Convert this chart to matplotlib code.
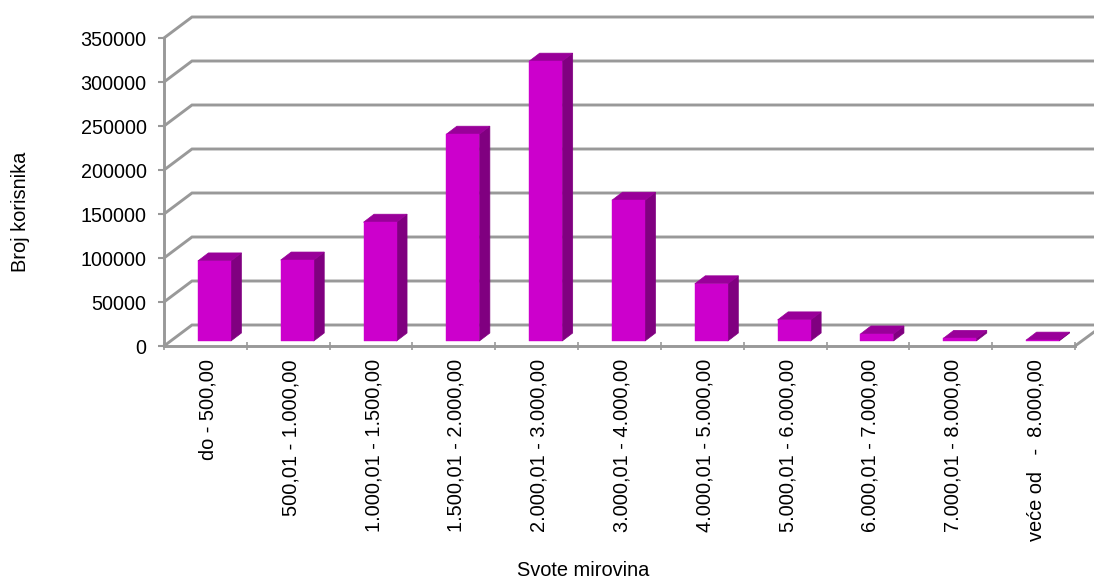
import matplotlib
matplotlib.use('Agg')
import matplotlib.pyplot as plt
from matplotlib.transforms import ScaledTranslation
import numpy as np

plt.rcParams['font.family'] = ['Liberation Sans', 'DejaVu Sans']

categories = ['do - 500,00', '500,01 - 1.000,00', '1.000,01 - 1.500,00', '1.500,01 - 2.000,00',
              '2.000,01 - 3.000,00', '3.000,01 - 4.000,00', '4.000,01 - 5.000,00',
              '5.000,01 - 6.000,00', '6.000,01 - 7.000,00', '7.000,01 - 8.000,00',
              'veće od   -  8.000,00']
korisnici = [91000, 92000, 135000, 235000, 318000, 160000, 65000, 24000, 8000, 3000, 1000]
y_ticks = [0, 50000, 100000, 150000, 200000, 250000, 300000, 350000]

W, H = 1094, 581
GRID = '#999999'
FRONT, TOP, SIDE = '#cc00cc', '#990099', '#800080'

fig = plt.figure(figsize=(W / 100, H / 100), dpi=100)
# axes = front plane of the fake 3d box, pixel position from the picture
left, right, top_px, bottom_px = 164, 1075, 38, 346
ax = fig.add_axes([left / W, 1 - bottom_px / H, (right - left) / W, (bottom_px - top_px) / H])
ax.set_xlim(0, len(categories))
ax.set_ylim(0, 350000)

# helpers px -> data units
ux = len(categories) / (right - left)
uy = 350000 / (bottom_px - top_px)

# walls
wall_dx, wall_dy = 28 * ux, 21 * uy
end_x = (W - left) * ux
for v in y_ticks:
    ax.plot([0, wall_dx, end_x], [v, v + wall_dy, v + wall_dy], color=GRID, lw=2.1,
            clip_on=False, zorder=1, solid_joinstyle='miter')
ax.plot([len(categories), len(categories) + 19 * ux], [0, 14 * uy], color=GRID, lw=2.1,
        clip_on=False, zorder=1)

# bars
centres = np.arange(len(categories)) + 0.5
bar_w = 33 * ux
shift_x, shift_y = 9 * ux, 5 * uy
dep_x, dep_y = 10.5 * ux, 8 * uy
for c, v in zip(centres, korisnici):
    x0 = c + shift_x - bar_w / 2
    x1 = x0 + bar_w
    y0, y1 = shift_y, shift_y + v
    ax.fill([x1, x1 + dep_x, x1 + dep_x, x1], [y0, y0 + dep_y, y1 + dep_y, y1],
            color=SIDE, lw=0.5, clip_on=False, zorder=3)
    ax.fill([x0, x0 + dep_x, x1 + dep_x, x1], [y1, y1 + dep_y, y1 + dep_y, y1],
            color=TOP, lw=0.5, clip_on=False, zorder=3)
ax.bar(centres + shift_x, korisnici, bottom=shift_y, width=bar_w, color=FRONT,
       edgecolor=FRONT, linewidth=0.3, clip_on=False, zorder=4)

# axes
for s in ['top', 'right']:
    ax.spines[s].set_visible(False)
for s in ['left', 'bottom']:
    ax.spines[s].set_color(GRID)
    ax.spines[s].set_linewidth(2.1)
    ax.spines[s].set_zorder(2)

ax.set_yticks(y_ticks)
ax.set_yticklabels([str(v) for v in y_ticks], fontsize=14.2, color='black')
ax.tick_params(axis='y', length=4.5, width=1.5, color=GRID, pad=8)
ax.set_xticks(np.arange(len(categories) + 1), minor=True)
ax.tick_params(axis='x', which='minor', direction='inout', length=6, width=1.2, color=GRID)
ax.set_xticks(centres)
ax.set_xticklabels(categories, rotation=90, fontsize=14.4)
ax.tick_params(axis='x', which='major', length=0, pad=9.5)
# labels sit a bit right of the category centre in the original
nudge = ScaledTranslation(2.5 / 100, 0, fig.dpi_scale_trans)
for lab in ax.get_xticklabels():
    lab.set_transform(lab.get_transform() + nudge)

fig.text(21 / W, 1 - 212 / H, 'Broj korisnika', rotation=90, ha='center', va='center', fontsize=14.4)
fig.text(583 / W, 1 - 571 / H, 'Svote mirovina', ha='center', va='center', fontsize=14.4)

fig.savefig('out.png', dpi=100)
